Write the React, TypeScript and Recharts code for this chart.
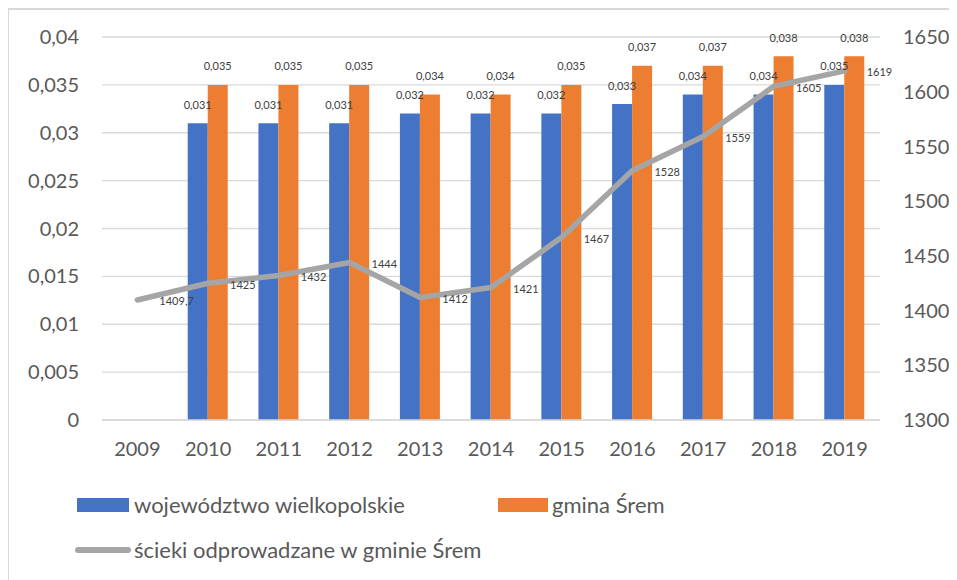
import React from 'react';
import { ComposedChart, Bar, Line, XAxis, YAxis, CartesianGrid, LabelList } from 'recharts';

const years = ['2009', '2010', '2011', '2012', '2013', '2014', '2015', '2016', '2017', '2018', '2019'];
const wojewodztwo = [null, 0.031, 0.031, 0.031, 0.032, 0.032, 0.032, 0.033, 0.034, 0.034, 0.035];
const gminaSrem = [null, 0.035, 0.035, 0.035, 0.034, 0.034, 0.035, 0.037, 0.037, 0.038, 0.038];
const scieki = [1409.7, 1425, 1432, 1444, 1412, 1421, 1467, 1528, 1559, 1605, 1619];
const leftTicks = [0, 0.005, 0.01, 0.015, 0.02, 0.025, 0.03, 0.035, 0.04];
const rightTicks = [1300, 1350, 1400, 1450, 1500, 1550, 1600, 1650];

const seriesNames = {
  woj: 'województwo wielkopolskie',
  gmina: 'gmina Śrem',
  scieki: 'ścieki odprowadzane w gminie Śrem',
};

const data = years.map((y, i) => ({
  year: y,
  woj: wojewodztwo[i],
  gmina: gminaSrem[i],
  scieki: scieki[i],
}));

const BLUE = '#4472c4';
const ORANGE = '#ed7d31';
const GRAY = '#a5a5a5';
const TEXT = '#595959';
const LABEL = '#404040';
const FONT = 'Lato, "Open Sans", sans-serif';

const fmt = (v: any) => String(v).replace('.', ',');

const BarLabel = (props: any) => {
  const { x, y, width, value } = props;
  if (value === null || value === undefined) return null;
  return (
    <text
      x={Number(x) + Number(width) / 2}
      y={Number(y) - 19}
      textAnchor="middle"
      dominantBaseline="central"
      fontSize={11}
      fontFamily={FONT}
      fill={LABEL}
    >
      {fmt(value)}
    </text>
  );
};

const LineLabel = (props: any) => {
  const { x, y, value } = props;
  if (value === null || value === undefined) return null;
  return (
    <text
      x={Number(x) + 22}
      y={Number(y) + 1}
      textAnchor="start"
      dominantBaseline="central"
      fontSize={11}
      fontFamily={FONT}
      fill={LABEL}
    >
      {fmt(value)}
    </text>
  );
};

const legendText: React.CSSProperties = {
  position: 'absolute',
  fontFamily: FONT,
  fontSize: 22,
  color: TEXT,
  lineHeight: '26px',
  whiteSpace: 'nowrap',
};

export default function App() {
  return (
    <div style={{ position: 'relative', width: 949, height: 572 }}>
      <div
        style={{
          position: 'absolute',
          left: -1,
          top: 0,
          right: 0,
          bottom: 0,
          borderTop: '2px solid #d9d9d9',
          borderLeft: '2px solid #d9d9d9',
          pointerEvents: 'none',
        }}
      />
      <ComposedChart
        width={949}
        height={572}
        data={data}
        margin={{ top: 29, right: 0, left: 0, bottom: 130 }}
        barGap={0}
        style={{ fontFamily: FONT }}
      >
        <CartesianGrid yAxisId="left" horizontal vertical={false} stroke="#d9d9d9" strokeWidth={1.4} />
        <XAxis
          dataKey="year"
          interval={0}
          tickLine={false}
          tickSize={0}
          tickMargin={22}
          axisLine={{ stroke: '#d9d9d9', strokeWidth: 1.4 }}
          tick={{ fontSize: 20, fill: TEXT, fontFamily: FONT }}
          height={30}
        />
        <YAxis
          yAxisId="left"
          orientation="left"
          domain={[0, 0.04]}
          ticks={leftTicks}
          tickFormatter={fmt}
          axisLine={false}
          tickLine={false}
          tickSize={0}
          tickMargin={23}
          width={94}
          interval={0}
          tick={{ fontSize: 20, fill: TEXT, fontFamily: FONT }}
        />
        <YAxis
          yAxisId="right"
          orientation="right"
          domain={[1300, 1650]}
          ticks={rightTicks}
          axisLine={false}
          tickLine={false}
          tickSize={0}
          tickMargin={23}
          width={77}
          interval={0}
          tick={{ fontSize: 20, fill: TEXT, fontFamily: FONT }}
        />
        <Bar yAxisId="left" dataKey="woj" name={seriesNames.woj} fill={BLUE} barSize={20} isAnimationActive={false}>
          <LabelList dataKey="woj" content={BarLabel} />
        </Bar>
        <Bar yAxisId="left" dataKey="gmina" name={seriesNames.gmina} fill={ORANGE} barSize={20} isAnimationActive={false}>
          <LabelList dataKey="gmina" content={BarLabel} />
        </Bar>
        <Line
          yAxisId="right"
          type="linear"
          dataKey="scieki"
          name={seriesNames.scieki}
          stroke={GRAY}
          strokeWidth={5.5}
          strokeLinecap="round"
          strokeLinejoin="round"
          dot={false}
          activeDot={false}
          isAnimationActive={false}
        >
          <LabelList dataKey="scieki" content={LineLabel} />
        </Line>
      </ComposedChart>

      <div style={{ position: 'absolute', left: 69, top: 490, width: 52, height: 14, background: BLUE }} />
      <div style={{ ...legendText, left: 126, top: 484 }}>{seriesNames.woj}</div>
      <div style={{ position: 'absolute', left: 490, top: 490, width: 50, height: 14, background: ORANGE }} />
      <div style={{ ...legendText, left: 544, top: 484 }}>{seriesNames.gmina}</div>
      <div
        style={{
          position: 'absolute',
          left: 67,
          top: 539,
          width: 56,
          height: 6,
          borderRadius: 3,
          background: GRAY,
        }}
      />
      <div style={{ ...legendText, left: 126, top: 529 }}>{seriesNames.scieki}</div>
    </div>
  );
}
